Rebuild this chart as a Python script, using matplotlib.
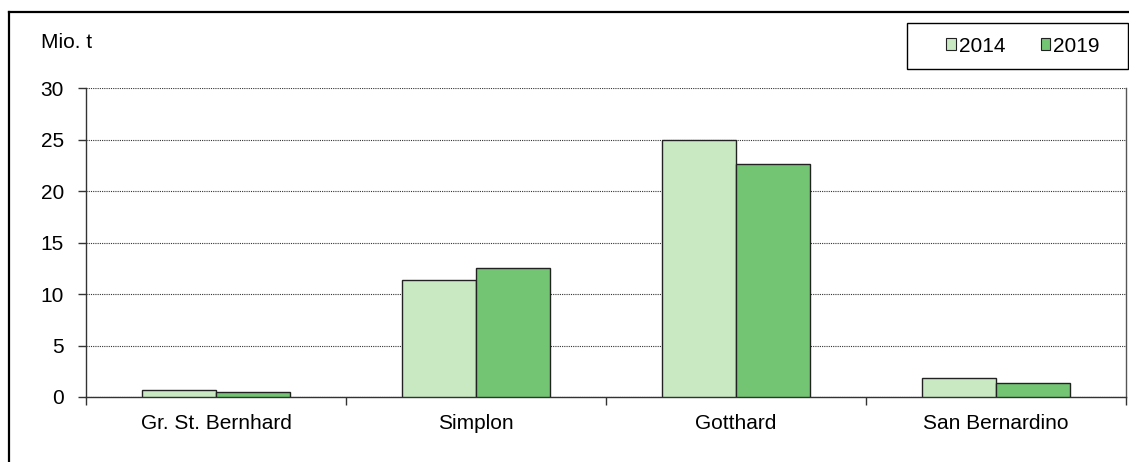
import matplotlib
matplotlib.use("Agg")
import matplotlib.pyplot as plt
from matplotlib.lines import Line2D
from matplotlib.patches import Rectangle
import numpy as np

plt.rcParams['font.family'] = ['Liberation Sans', 'DejaVu Sans']

# data (Mio. t)
passes = ['Gr. St. Bernhard', 'Simplon', 'Gotthard', 'San Bernardino']
years = ['2014', '2019']
vals_2014 = [0.65, 11.35, 25.0, 1.85]
vals_2019 = [0.45, 12.55, 22.6, 1.35]
colors = ['#C8E9C2', '#73C573']

W, H = 1129, 462
fs = 15
fig = plt.figure(figsize=(W / 100, H / 100), dpi=100)
ax = fig.add_axes([86 / W, 1 - 397 / H, (1126 - 86) / W, (397 - 88) / H])

x = np.arange(len(passes))
bw = 0.285
ax.bar(x - bw / 2, vals_2014, bw, color=colors[0], edgecolor='#222222', linewidth=1.0, label=years[0], zorder=3)
ax.bar(x + bw / 2, vals_2019, bw, color=colors[1], edgecolor='#222222', linewidth=1.0, label=years[1], zorder=3)

ax.set_xlim(-0.5, len(passes) - 0.5)
ax.set_ylim(0, 30)
ax.set_yticks(range(0, 31, 5))
ax.yaxis.grid(True, linestyle=(0, (1, 1)), color='#333333', linewidth=0.8, zorder=0)

# labels at centres, tick marks at category boundaries
ax.set_xticks(x)
ax.set_xticklabels(passes)
ax.set_xticks(np.arange(-0.5, len(passes)), minor=True)
ax.tick_params(axis='x', which='major', length=0, pad=12, labelsize=fs)
ax.tick_params(axis='x', which='minor', length=6, width=1, color='#333333', direction='out')
ax.tick_params(axis='y', length=6, width=1, color='#333333', pad=10, labelsize=fs)

for s in ['left', 'bottom']:
    ax.spines[s].set_color('#333333')
    ax.spines[s].set_linewidth(1)
ax.spines['top'].set_visible(False)
ax.spines['right'].set_color('#555555')
ax.spines['right'].set_linewidth(1)

fig.text(41 / W, 1 - 48 / H, 'Mio. t', fontsize=fs, va='baseline', ha='left')

# legend box drawn by hand, legend entries centred in it
fig.add_artist(Rectangle((907 / W, 1 - 69 / H), (1128 - 907) / W, (69 - 23) / H,
                         transform=fig.transFigure, facecolor='white',
                         edgecolor='black', linewidth=1.0, zorder=1))
handles, labels = ax.get_legend_handles_labels()
leg = fig.legend(handles, labels, loc='center', bbox_to_anchor=(1023 / W, 1 - 46 / H),
                 ncol=2, fontsize=fs, frameon=False, handlelength=0.45, handleheight=0.45,
                 handletextpad=0.15, columnspacing=1.7, borderaxespad=0)
leg.set_zorder(10)
for p in leg.get_patches():
    p.set_linewidth(0.8)

# outer frame of the chart area
fig.add_artist(Line2D([9 / W, 9 / W], [0, 1 - 12 / H], color='black', linewidth=1.6, transform=fig.transFigure))
fig.add_artist(Line2D([9 / W, 1], [1 - 12 / H, 1 - 12 / H], color='black', linewidth=1.6, transform=fig.transFigure))

fig.savefig('out.png', dpi=100)
